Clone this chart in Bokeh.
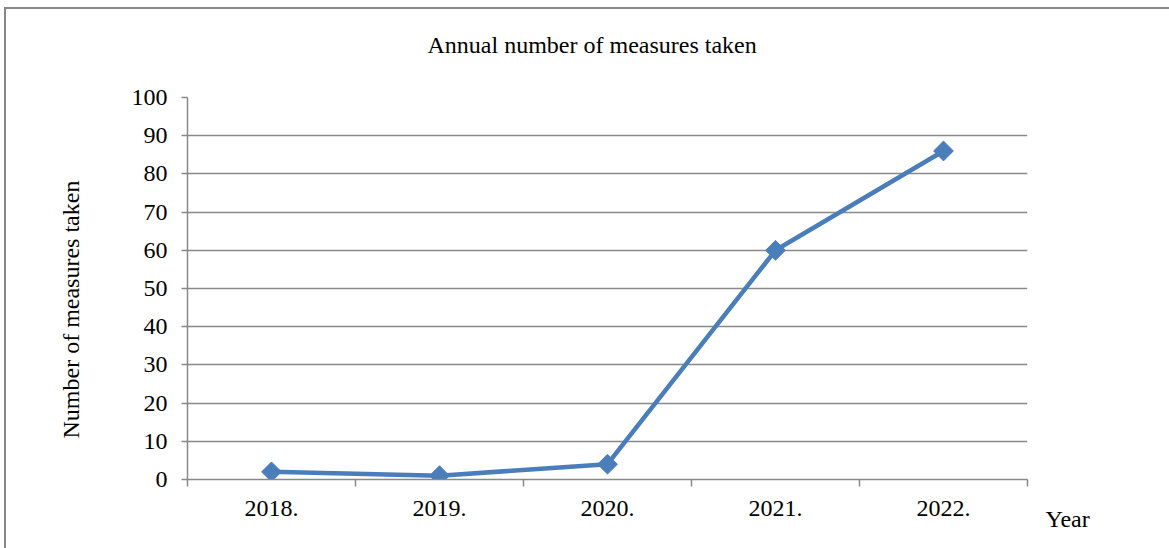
from math import pi

from bokeh.embed import file_html
from bokeh.models import ColumnDataSource, FixedTicker, InlineStyleSheet, Label, Range1d, Title
from bokeh.plotting import figure
from bokeh.resources import INLINE

# Data
years = ["2018.", "2019.", "2020.", "2021.", "2022."]
measures = [2, 1, 4, 60, 86]
y_ticks = [0, 10, 20, 30, 40, 50, 60, 70, 80, 90, 100]

title_text = "Annual number of measures taken"
y_title = "Number of measures taken"
x_title = "Year"

# Layout (pixels)
W, H = 1169, 548
FRAME_L, FRAME_R, FRAME_T, FRAME_B = 187, 1027, 97, 479
FONT = "Liberation Serif"
GRID = "#898989"
BLUE = "#4A7EBB"

n = len(years)
x_pos = [i + 0.5 for i in range(n)]

p = figure(
    width=W, height=H,
    x_range=Range1d(0, n), y_range=Range1d(0, 100),
    output_backend="svg", toolbar_location=None,
    min_border_left=FRAME_L, min_border_right=W - FRAME_R,
    min_border_top=FRAME_T, min_border_bottom=H - FRAME_B,
)
p.outline_line_color = None
p.background_fill_color = "white"
p.border_fill_color = "white"

# Chart-area border (thin grey frame around the whole chart)
p.stylesheets = [InlineStyleSheet(css="""
:host { position: relative; }
:host::after {
  content: ""; position: absolute; left: 4px; top: 7px; right: -20px; bottom: -20px;
  border: 2px solid #898989; pointer-events: none; z-index: 10;
}
""")]

# Axes
xa = p.xaxis[0]
xa.ticker = FixedTicker(ticks=x_pos, minor_ticks=list(range(n + 1)))
xa.major_label_overrides = {x: lab for x, lab in zip(x_pos, years)}
xa.major_tick_line_color = None
xa.major_tick_out = 0
xa.major_tick_in = 0
xa.minor_tick_line_color = GRID
xa.minor_tick_line_width = 1.5
xa.minor_tick_out = 7
xa.minor_tick_in = 0
xa.axis_line_color = GRID
xa.axis_line_width = 1.5
xa.major_label_standoff = 14

ya = p.yaxis[0]
ya.ticker = FixedTicker(ticks=y_ticks)
ya.major_tick_line_color = GRID
ya.major_tick_line_width = 1.5
ya.major_tick_out = 6
ya.major_tick_in = 0
ya.minor_tick_line_color = None
ya.axis_line_color = GRID
ya.axis_line_width = 1.5
ya.major_label_standoff = 14

for ax in (xa, ya):
    ax.major_label_text_font = FONT
    ax.major_label_text_font_size = "24px"
    ax.major_label_text_color = "black"

p.xgrid.grid_line_color = None
p.ygrid.ticker = FixedTicker(ticks=y_ticks)
p.ygrid.grid_line_color = GRID
p.ygrid.grid_line_width = 1.5

# Series
src = ColumnDataSource(dict(x=x_pos, y=measures))
p.line("x", "y", source=src, line_color=BLUE, line_width=4.5, line_join="round")
p.scatter("x", "y", source=src, marker="square", size=14, angle=pi / 4,
          fill_color=BLUE, line_color=BLUE)

# Titles: an empty spacer row keeps the chart title clear of the plot area
p.title.text = ""
text_style = dict(text_font=FONT, text_font_size="24px", text_font_style="normal",
                  text_color="black")
p.add_layout(Title(text=" ", standoff=12, **text_style), "above")
p.add_layout(Title(text=title_text, align="left", offset=240, standoff=0, **text_style),
             "above")

p.add_layout(Title(text=y_title, align="left", offset=41, standoff=90, **text_style), "left")

p.add_layout(Label(x=18, y=-39, x_units="screen", y_units="screen", text=x_title,
                   text_align="left", text_baseline="alphabetic", text_font=FONT,
                   text_font_size="24px", text_color="black"), "right")

open("out.html", "w").write(file_html(p, INLINE))
